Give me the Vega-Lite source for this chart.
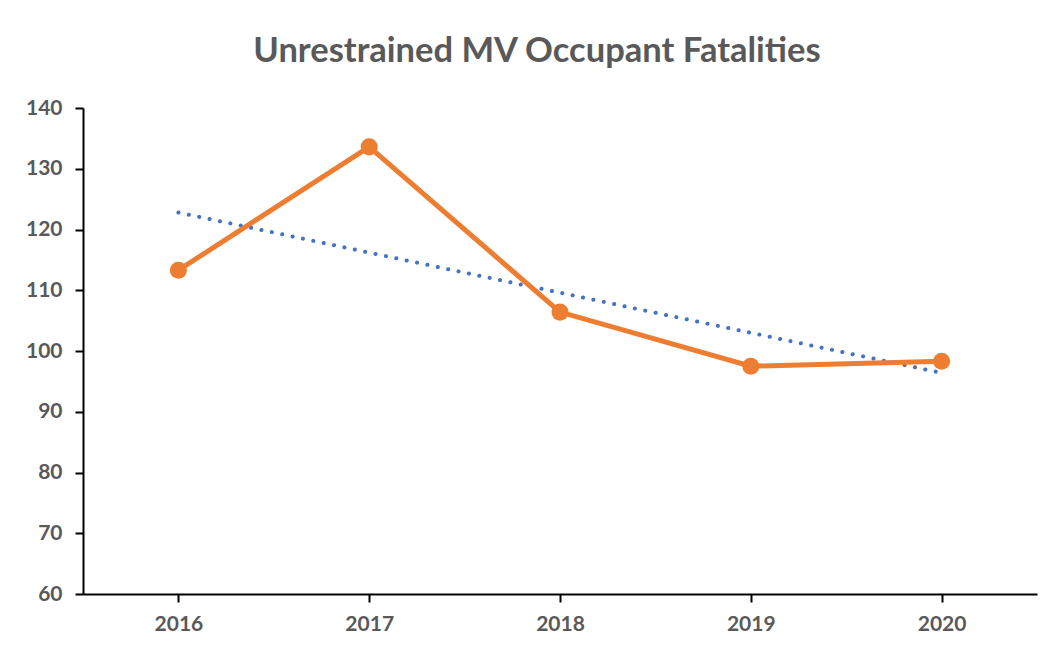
{
  "$schema": "https://vega.github.io/schema/vega-lite/v6.json",
  "width": 954,
  "height": 486,
  "autosize": {"type": "none"},
  "padding": {"left": 83, "top": 108, "right": 21, "bottom": 60},
  "background": "white",
  "title": {
    "text": "Unrestrained MV Occupant Fatalities",
    "font": "Lato",
    "fontSize": 34.5,
    "fontWeight": "bold",
    "color": "#595959",
    "anchor": "middle",
    "dx": -23,
    "offset": 28
  },
  "datasets": {
    "main": [
      {"year": "2016", "value": 113.3},
      {"year": "2017", "value": 133.6},
      {"year": "2018", "value": 106.4},
      {"year": "2019", "value": 97.5},
      {"year": "2020", "value": 98.3}
    ],
    "trend": [
      {"year": "2016", "value": 122.8},
      {"year": "2020", "value": 96.4}
    ]
  },
  "encoding": {
    "x": {
      "field": "year",
      "type": "ordinal",
      "scale": {"type": "point", "padding": 0.5, "domain": ["2016", "2017", "2018", "2019", "2020"]},
      "axis": {
        "title": null,
        "labelAngle": 0,
        "labelFont": "Lato",
        "labelFontSize": 21,
        "labelFontWeight": "bold",
        "labelColor": "#595959",
        "labelPadding": 11,
        "domainColor": "black",
        "domainWidth": 2,
        "tickColor": "black",
        "tickWidth": 2,
        "tickSize": 8,
        "grid": false
      }
    },
    "y": {
      "field": "value",
      "type": "quantitative",
      "scale": {"domain": [60, 140], "nice": false, "zero": false},
      "axis": {
        "title": null,
        "values": [60, 70, 80, 90, 100, 110, 120, 130, 140],
        "labelFont": "Lato",
        "labelFontSize": 21,
        "labelFontWeight": "bold",
        "labelColor": "#595959",
        "labelPadding": 13,
        "domainColor": "black",
        "domainWidth": 2,
        "tickColor": "black",
        "tickWidth": 2,
        "tickSize": 8,
        "grid": false
      }
    }
  },
  "layer": [
    {
      "data": {"name": "trend"},
      "mark": {"type": "line", "color": "#4472C4", "strokeWidth": 4, "strokeCap": "round", "strokeDash": [0.1, 10.5]}
    },
    {
      "data": {"name": "main"},
      "mark": {"type": "line", "color": "#ED7D31", "strokeWidth": 5, "point": {"filled": true, "size": 290, "color": "#ED7D31", "opacity": 1}}
    }
  ],
  "config": {"view": {"stroke": null}}
}
